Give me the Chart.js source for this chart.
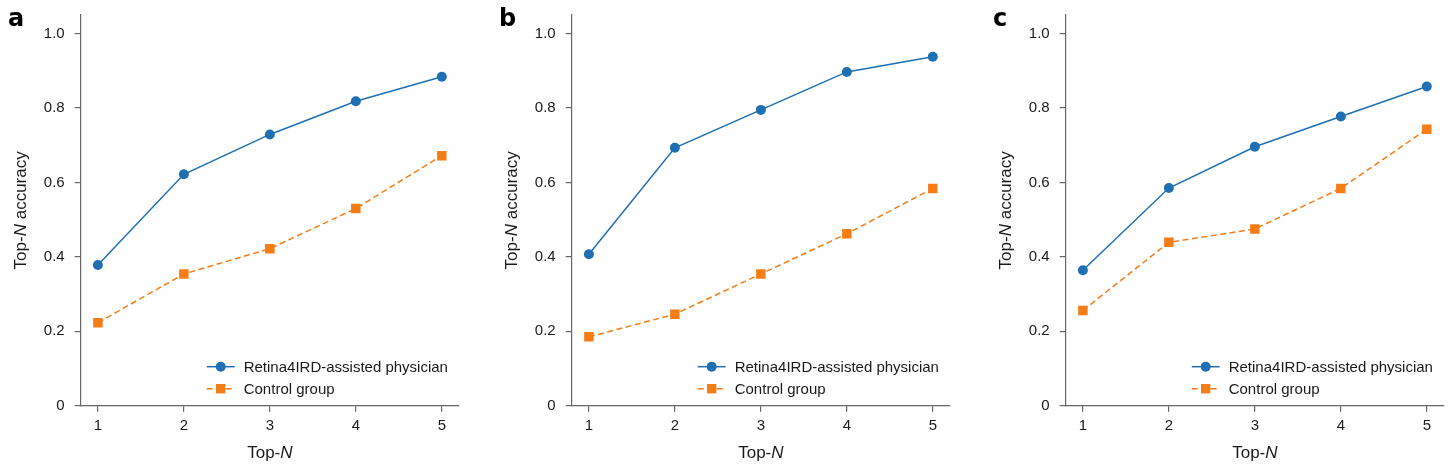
<!DOCTYPE html>
<html>
<head>
<meta charset="utf-8">
<script src="https://cdn.jsdelivr.net/npm/chart.js@4.4.1/dist/chart.umd.min.js"></script>
<style>
  html, body { margin: 0; padding: 0; background: #fff; }
  body { width: 1456px; height: 470px; position: relative; overflow: hidden; }
  .panel { position: absolute; top: 0; width: 471px; height: 470px; }
</style>
</head>
<body>
<div class="panel" style="left:0px"><canvas id="ca"></canvas></div>
<div class="panel" style="left:491px"><canvas id="cb"></canvas></div>
<div class="panel" style="left:985px"><canvas id="cc"></canvas></div>
<script>
// ---- data ----
const topN = [1, 2, 3, 4, 5];
const panelLetters = ['a', 'b', 'c'];
const seriesNames = ['Retina4IRD-assisted physician', 'Control group'];
const yTicks = [0, 0.2, 0.4, 0.6, 0.8, 1.0];

const assistedA = [0.378, 0.622, 0.729, 0.818, 0.884];
const controlA  = [0.223, 0.354, 0.422, 0.530, 0.672];
const assistedB = [0.407, 0.693, 0.795, 0.897, 0.938];
const controlB  = [0.185, 0.246, 0.354, 0.462, 0.584];
const assistedC = [0.364, 0.585, 0.696, 0.777, 0.858];
const controlC  = [0.256, 0.439, 0.475, 0.584, 0.743];

// ---- style ----
const BLUE = '#1f6fb2';
const ORANGE = '#f57d16';
const TEXT = '#1a1a1a';
const AXIS = '#666666';
const FONT = '"Liberation Sans", Arial, sans-serif';

function pts(vals) { return topN.map((x, i) => ({ x: x, y: vals[i] })); }

const decorPlugin = {
  id: 'decor',
  afterDraw(chart, args, opts) {
    const ctx = chart.ctx;
    const ca = chart.chartArea;
    ctx.save();
    ctx.fillStyle = '#000';
    // panel letter
    ctx.font = 'bold 24px "DejaVu Sans", ' + FONT;
    ctx.textBaseline = 'alphabetic';
    ctx.textAlign = 'left';
    ctx.fillText(opts.letter, 8, 26);
    ctx.fillStyle = TEXT;

    // mixed-style title helper
    function mixed(parts, cx, cy, rot) {
      ctx.save();
      ctx.translate(cx, cy);
      ctx.rotate(rot);
      let total = 0;
      parts.forEach(p => { ctx.font = p[1] + ' 17px ' + FONT; total += ctx.measureText(p[0]).width; });
      let x = -total / 2;
      ctx.textBaseline = 'middle';
      ctx.textAlign = 'left';
      parts.forEach(p => { ctx.font = p[1] + ' 17px ' + FONT; ctx.fillText(p[0], x, 0); x += ctx.measureText(p[0]).width; });
      ctx.restore();
    }
    mixed([['Top-', 'normal'], ['N', 'italic'], [' accuracy', 'normal']], 21, (ca.top + ca.bottom) / 2, -Math.PI / 2);
    mixed([['Top-', 'normal'], ['N', 'italic']], (ca.left + ca.right) / 2, 453, 0);

    // legend
    const lx0 = ca.left + 126, lx1 = ca.left + 154, tx = ca.left + 163;
    const rows = [ca.bottom - 39, ca.bottom - 17];
    chart.data.datasets.forEach((ds, i) => {
      const y = rows[i];
      ctx.strokeStyle = ds.borderColor;
      ctx.lineWidth = ds.borderWidth;
      ctx.setLineDash(ds.borderDash || []);
      ctx.beginPath();
      ctx.moveTo(lx0, y); ctx.lineTo(lx1, y);
      ctx.stroke();
      ctx.setLineDash([]);
      ctx.fillStyle = ds.pointBackgroundColor;
      const cx = (lx0 + lx1) / 2;
      if (ds.pointStyle === 'rect') {
        ctx.fillRect(cx - 4.7, y - 4.7, 9.4, 9.4);
      } else {
        ctx.beginPath(); ctx.arc(cx, y, 5, 0, Math.PI * 2); ctx.fill();
      }
      ctx.fillStyle = TEXT;
      ctx.font = '15px ' + FONT;
      ctx.textBaseline = 'middle';
      ctx.fillText(ds.label, tx, y + 1);
    });
    ctx.restore();
  }
};

function makeChart(id, letter, assisted, control) {
  return new Chart(document.getElementById(id), {
    type: 'line',
    data: {
      datasets: [
        { label: seriesNames[0], data: pts(assisted), borderColor: BLUE, backgroundColor: BLUE,
          pointBackgroundColor: BLUE, pointBorderColor: BLUE, borderWidth: 1.5,
          pointStyle: 'circle', pointRadius: 5, pointBorderWidth: 0, pointHoverRadius: 5, tension: 0 },
        { label: seriesNames[1], data: pts(control), borderColor: ORANGE, backgroundColor: ORANGE,
          pointBackgroundColor: ORANGE, pointBorderColor: ORANGE, borderWidth: 1.5, borderDash: [6, 3.5],
          pointStyle: 'rect', pointRadius: 6.7, pointBorderWidth: 0, pointHoverRadius: 6.7, tension: 0 }
      ]
    },
    options: {
      responsive: true,
      maintainAspectRatio: false,
      animation: false,
      events: [],
      layout: { padding: { top: 15, right: 12, left: 0, bottom: 0 } },
      plugins: { legend: { display: false }, tooltip: { enabled: false }, decor: { letter: letter } },
      scales: {
        x: {
          type: 'linear', min: 0.8, max: 5.2,
          afterBuildTicks: s => { s.ticks = topN.map(v => ({ value: v })); },
          afterFit: s => { s.height = 64.3; s.paddingLeft = 0; s.paddingRight = 0; },
          border: { display: true, color: AXIS, width: 1.2 },
          grid: { display: true, drawOnChartArea: false, drawTicks: true, tickLength: 6, color: AXIS, lineWidth: 1.2 },
          ticks: { color: TEXT, font: { family: FONT, size: 15 }, padding: 5, callback: v => String(v) }
        },
        y: {
          type: 'linear', min: 0, max: 1.05,
          afterBuildTicks: s => { s.ticks = yTicks.map(v => ({ value: v })); },
          afterFit: s => { s.width = 80.7; s.paddingTop = 0; s.paddingBottom = 0; },
          border: { display: true, color: AXIS, width: 1.2 },
          grid: { display: true, drawOnChartArea: false, drawTicks: true, tickLength: 6, color: AXIS, lineWidth: 1.2 },
          ticks: { color: TEXT, font: { family: FONT, size: 15 }, padding: 10,
                   callback: v => (v === 0 ? '0' : Number(v).toFixed(1)) }
        }
      }
    },
    plugins: [decorPlugin]
  });
}

makeChart('ca', panelLetters[0], assistedA, controlA);
makeChart('cb', panelLetters[1], assistedB, controlB);
makeChart('cc', panelLetters[2], assistedC, controlC);
</script>
</body>
</html>
